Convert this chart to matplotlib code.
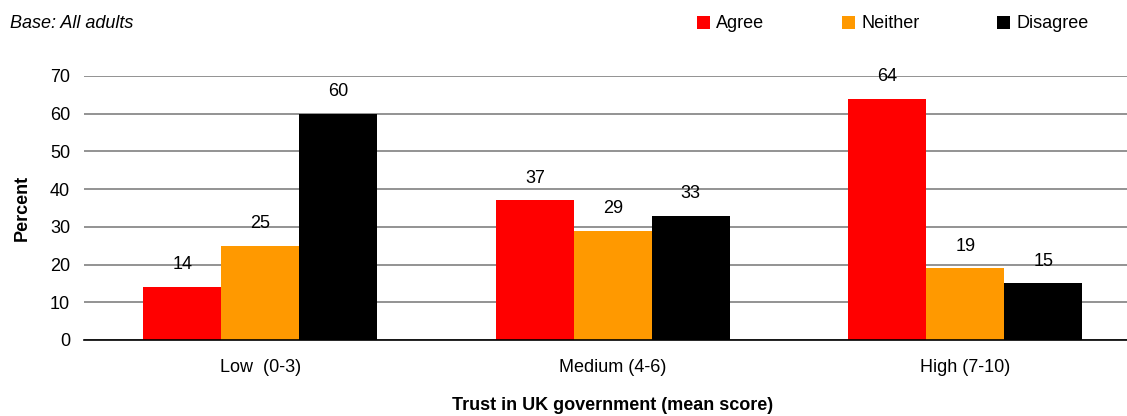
import matplotlib
matplotlib.use("Agg")
import matplotlib.pyplot as plt
from matplotlib.patches import Patch
import numpy as np

categories = ["Low  (0-3)", "Medium (4-6)", "High (7-10)"]
series_names = ["Agree", "Neither", "Disagree"]
agree = [14, 37, 64]
neither = [25, 29, 19]
disagree = [60, 33, 15]
colors = ["#FF0000", "#FF9900", "#000000"]
yticks = [0, 10, 20, 30, 40, 50, 60, 70]

plt.rcParams['font.family'] = ['Liberation Sans', 'DejaVu Sans']
FS = 13

W, H = 1127, 416
fig = plt.figure(figsize=(W / 100, H / 100), dpi=100)
ax_left, ax_right = 84, 84 + 3 * 352.5
ax_top, ax_bottom = 76, 340
ax = fig.add_axes([ax_left / W, 1 - ax_bottom / H, (ax_right - ax_left) / W, (ax_bottom - ax_top) / H])

x = np.arange(len(categories))
bw = 0.221
values = [agree, neither, disagree]
for i, (name, vals, c) in enumerate(zip(series_names, values, colors)):
    pos = x + (i - 1) * bw
    ax.bar(pos, vals, width=bw, color=c, zorder=3, label=name)
    for p, v in zip(pos, vals):
        ax.annotate(str(v), (p, v), xytext=(0, 16), textcoords="offset points",
                    ha="center", va="center", fontsize=FS, color="black", zorder=4)

ax.set_xlim(-0.5, 2.5)
ax.set_ylim(0, 70)
ax.set_yticks(yticks)
ax.set_xticks(x)
ax.set_xticklabels(categories, fontsize=FS)
ax.tick_params(axis="y", length=0, pad=10, labelsize=FS)
ax.tick_params(axis="x", length=0, pad=14, labelsize=FS)
ax.yaxis.grid(True, color="#808080", linewidth=1.2, zorder=0)
for s in ["top", "right", "left"]:
    ax.spines[s].set_visible(False)
ax.spines["bottom"].set_color("black")
ax.spines["bottom"].set_linewidth(1.2)
ax.spines["bottom"].set_zorder(5)

ax.set_ylabel("Percent", fontsize=FS, fontweight="bold", labelpad=14)
ax.set_xlabel("Trust in UK government (mean score)", fontsize=FS, fontweight="bold", labelpad=15)

fig.text(10 / W, 1 - 24 / H, "Base: All adults", fontsize=FS, style="italic", va="center", ha="left")

handles = [Patch(facecolor=c, edgecolor="none") for c in colors]
fig.legend(handles, series_names, loc="center left", bbox_to_anchor=(697 / W, 1 - 24 / H),
           ncol=3, frameon=False, fontsize=FS, handlelength=0.72, handleheight=0.72,
           handletextpad=0.35, columnspacing=4.3, borderpad=0, borderaxespad=0)

fig.savefig("out.png", dpi=100)
